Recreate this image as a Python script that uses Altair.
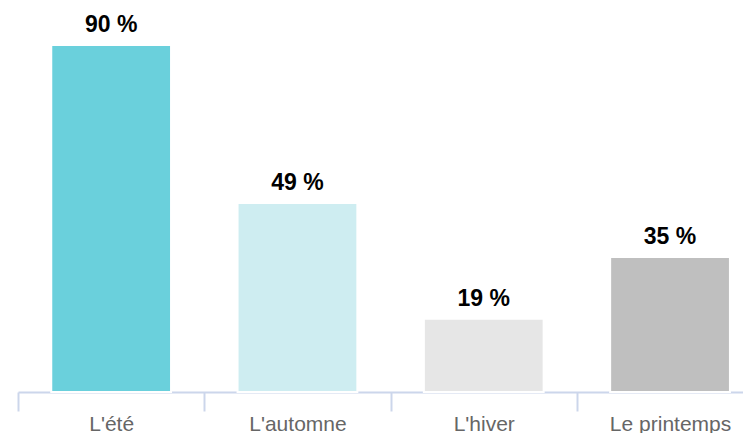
import altair as alt
import pandas as pd

categories = ["L'été", "L'automne", "L'hiver", "Le printemps"]
values = [90, 49, 19, 35]
colors = ["#6AD0DC", "#CEEDF1", "#E6E6E6", "#BFBFBF"]
labels = [f"{v} %" for v in values]

df = pd.DataFrame({"cat": categories, "value": values, "color": colors, "label": labels})

x = alt.X(
    "cat:N",
    sort=categories,
    scale=alt.Scale(range=[0, 745.2], paddingInner=0, paddingOuter=0),
    axis=alt.Axis(
        title=None, labelAngle=0, tickBand="extent",
        domainColor="#CCD6EB", domainWidth=2,
        tickColor="#CCD6EB", tickWidth=2, tickSize=19,
        labelPadding=19, labelBaseline="alphabetic",
        labelFont="Liberation Sans", labelFontSize=21, labelColor="#666666",
    ),
)
y = alt.Y("value:Q", scale=alt.Scale(domain=[0, 99.07], nice=False), axis=None)

base = alt.Chart(df).encode(x=x, y=y)
bars = base.mark_bar(
    width=alt.RelativeBandSize(0.643), stroke="white", strokeWidth=2
).encode(color=alt.Color("color:N", scale=None))
text = base.mark_text(
    dy=-13, baseline="alphabetic", font="Liberation Sans", fontSize=23,
    fontWeight="bold", color="black"
).encode(text="label:N")

chart = (bars + text).properties(
    width=725, height=382,
    padding={"left": 10, "top": 2, "right": 0, "bottom": 41},
    autosize=alt.AutoSizeParams(type="none"),
).configure_view(stroke=None)

chart.save("out.html", embed_options={"renderer": "svg", "actions": False})
